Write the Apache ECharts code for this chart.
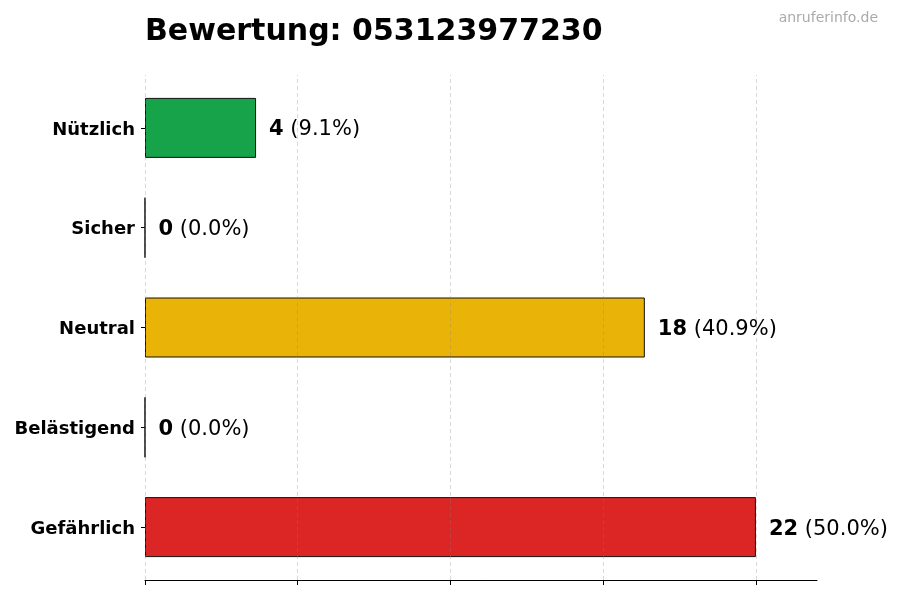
<!DOCTYPE html>
<html>
<head>
<meta charset="utf-8">
<script src="https://cdn.jsdelivr.net/npm/echarts@6/dist/echarts.min.js"></script>
<style>html,body{margin:0;padding:0;background:#fff}#c{width:900px;height:600px}</style>
</head>
<body>
<div id="c"></div>
<script>
const categories = ['Nützlich', 'Sicher', 'Neutral', 'Belästigend', 'Gefährlich'];
const values = [4, 0, 18, 0, 22];
const colors = ['#16a34a', '#6b7280', '#eab308', '#f97316', '#dc2626'];
const gridTicks = [0, 5.5, 11, 16.5, 22];
const titleText = 'Bewertung: 053123977230';
const watermark = 'anruferinfo.de';

const total = values.reduce((a, b) => a + b, 0);
const maxV = Math.max(...values);
const font = 'DejaVu Sans';

const chart = echarts.init(document.getElementById('c'));
chart.setOption({
  animation: false,
  backgroundColor: '#fff',
  title: [
    { text: titleText, left: 140, top: 12, textStyle: { fontFamily: font, fontSize: 30, fontWeight: 'bold', color: '#000' } },
    { text: watermark, right: 17, top: 6, textStyle: { fontFamily: font, fontSize: 14, fontWeight: 'normal', color: '#aaaaaa' } }
  ],
  grid: [
    { left: 145, right: 83, top: 75, bottom: 20 },
    { left: 145, right: 83, top: 78, bottom: 23 }
  ],
  xAxis: [
    {
      gridIndex: 0, type: 'value', min: 0, max: maxV * 1.1,
      axisLine: { show: true, lineStyle: { color: '#000', width: 1 } },
      axisTick: { show: true, customValues: gridTicks, length: 5, lineStyle: { color: '#000' } },
      axisLabel: { show: false },
      splitLine: { show: false }
    },
    {
      gridIndex: 1, type: 'value', min: 0, max: maxV * 1.1, show: false,
      splitLine: { show: false }
    }
  ],
  yAxis: [
    {
      gridIndex: 0, type: 'value', min: 0, max: 1, show: false,
      splitLine: { show: false }
    },
    {
      gridIndex: 1, type: 'category', inverse: true, data: categories,
      axisLine: { show: false },
      axisTick: { show: true, alignWithLabel: true, length: 4, lineStyle: { color: '#000' } },
      axisLabel: {
        fontFamily: font, fontSize: 18, fontWeight: 'bold', color: '#000', margin: 10,
        formatter: v => '{a|' + v + '}',
        rich: { a: { fontFamily: font, fontSize: 18, fontWeight: 'bold', color: '#000', padding: [4, 0, 0, 0] } }
      }
    }
  ],
  series: [
    {
      type: 'bar', xAxisIndex: 1, yAxisIndex: 1, z: 2, barWidth: 60,
      data: values.map((v, i) => ({ value: v, itemStyle: { color: colors[i] } })),
      itemStyle: { borderColor: '#111', borderWidth: 1 },
      label: {
        show: true, position: 'right', distance: 13, offset: [0, 2],
        fontFamily: font, fontSize: 21, color: '#000',
        formatter: p => '{b|' + p.value + '} {n|(' + (p.value / total * 100).toFixed(1) + '%)}',
        rich: {
          b: { fontFamily: font, fontSize: 21, fontWeight: 'bold', color: '#000' },
          n: { fontFamily: font, fontSize: 21, color: '#000' }
        }
      }
    },
    {
      type: 'scatter', xAxisIndex: 0, yAxisIndex: 0, data: [], z: 5, silent: true,
      markLine: {
        silent: true, symbol: 'none', label: { show: false }, z: 5,
        lineStyle: { type: [4, 3], color: 'rgba(128,128,128,0.3)', width: 1 },
        data: gridTicks.map(v => ({ xAxis: v }))
      }
    }
  ]
});
</script>
</body>
</html>
